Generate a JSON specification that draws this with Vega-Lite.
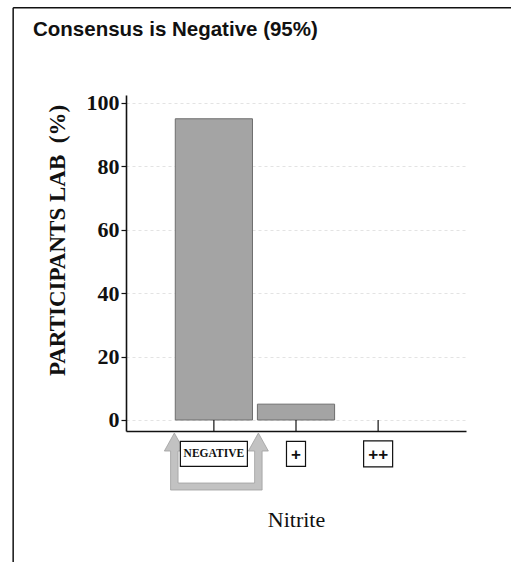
{
  "$schema": "https://vega.github.io/schema/vega-lite/v6.json",
  "width": 340,
  "height": 336,
  "autosize": {"type": "none"},
  "padding": {"left": 126, "top": 95, "right": 45, "bottom": 131},
  "background": "white",
  "title": {
    "text": "Consensus is Negative (95%)",
    "anchor": "start",
    "frame": "group",
    "dx": -93,
    "offset": -49.5,
    "baseline": "alphabetic",
    "font": "Liberation Sans",
    "fontSize": 20.5,
    "fontWeight": "bold",
    "color": "#111111"
  },
  "config": {"view": {"stroke": null}},
  "data": {
    "values": [
      {"category": "NEGATIVE", "percent": 95},
      {"category": "+", "percent": 5},
      {"category": "++", "percent": 0}
    ]
  },
  "layer": [
    {
      "data": {"values": [{"annotation": "frame"}]},
      "mark": {"type": "rule", "color": "#111111", "strokeWidth": 1.5},
      "encoding": {
        "x": {"datum": "NEGATIVE", "bandPosition": -2.1},
        "x2": {"datum": "++", "bandPosition": 2.6},
        "y": {"datum": 130}
      }
    },
    {
      "data": {"values": [{"annotation": "frame"}]},
      "mark": {"type": "rule", "color": "#111111", "strokeWidth": 1.5},
      "encoding": {
        "x": {"datum": "NEGATIVE", "bandPosition": -2.1},
        "y": {"datum": 130},
        "y2": {"datum": -50}
      }
    },
    {
      "mark": {"type": "bar", "fill": "#a4a4a4", "stroke": "#6e6e6e", "strokeWidth": 1},
      "encoding": {
        "x": {
          "field": "category",
          "type": "nominal",
          "sort": null,
          "scale": {"type": "band", "domain": ["NEGATIVE", "+", "++"], "paddingInner": 0.06, "paddingOuter": 0.6},
          "axis": {
            "title": "Nitrite",
            "labels": false,
            "ticks": false,
            "domainColor": "#111111",
            "domainWidth": 1.6,
            "titleFont": "Liberation Serif",
            "titleFontSize": 22,
            "titleFontWeight": "normal",
            "titleBaseline": "alphabetic",
            "titlePadding": 95,
            "titleColor": "#111111"
          }
        },
        "y": {
          "field": "percent",
          "type": "quantitative",
          "scale": {"domain": [-3.47, 102.5], "nice": false, "zero": false},
          "axis": {
            "title": "PARTICIPANTS LAB\u00a0 (%)",
            "values": [0, 20, 40, 60, 80, 100],
            "labelFont": "Liberation Serif",
            "labelFontSize": 22,
            "labelFontWeight": "bold",
            "labelColor": "#111111",
            "labelPadding": 2,
            "tickSize": 5,
            "tickColor": "#111111",
            "tickWidth": 1.2,
            "domainColor": "#111111",
            "domainWidth": 1.6,
            "grid": true,
            "gridColor": "#dcdcdc",
            "gridDash": [3, 3],
            "gridWidth": 0.8,
            "titleFont": "Liberation Serif",
            "titleFontSize": 23,
            "titleFontWeight": "bold",
            "titleColor": "#111111",
            "titlePadding": 17,
            "titleY": 145
          }
        },
        "y2": {"datum": 0},
        "strokeOpacity": {"condition": {"test": "datum.percent > 0", "value": 1}, "value": 0}
      }
    },
    {
      "mark": {"type": "rule", "color": "#111111", "strokeWidth": 1.2},
      "encoding": {
        "x": {"field": "category", "type": "nominal"},
        "y": {"datum": -3.47},
        "y2": {"datum": 0}
      }
    },
    {
      "data": {"values": [{"annotation": "consensus arrows"}]},
      "mark": {
        "type": "point",
        "shape": "M-0.808,-0.548L-0.615,-0.202L-0.736,-0.202L-0.736,0.413L0.736,0.413L0.736,-0.202L0.615,-0.202L0.808,-0.548L1,-0.202L0.88,-0.202L0.88,0.548L-0.88,0.548L-0.88,-0.202L-1,-0.202Z",
        "size": 10816,
        "filled": true,
        "fill": "#c2c2c2",
        "stroke": "#a0a0a0",
        "strokeWidth": 0.8,
        "opacity": 1
      },
      "encoding": {
        "x": {"datum": "NEGATIVE", "bandPosition": 0.532},
        "y": {"datum": -13.1}
      }
    },
    {
      "mark": {"type": "point", "filled": true, "fill": "white", "stroke": "#111111", "strokeWidth": 1.2, "size": 4489, "opacity": 1},
      "encoding": {
        "x": {"field": "category", "type": "nominal"},
        "y": {"datum": -10.7},
        "shape": {
          "field": "category",
          "type": "nominal",
          "scale": {
            "domain": ["NEGATIVE", "+", "++"],
            "range": ["M-1,-0.373H1V0.373H-1Z", "M-0.284,-0.373H0.284V0.373H-0.284Z", "M-0.433,-0.388H0.433V0.388H-0.433Z"]
          },
          "legend": null
        }
      }
    },
    {
      "transform": [{"filter": "datum.category === 'NEGATIVE'"}],
      "mark": {"type": "text", "font": "Liberation Serif", "fontWeight": "bold", "fontSize": 11.5, "color": "#111111", "baseline": "middle", "align": "center"},
      "encoding": {
        "x": {"field": "category", "type": "nominal"},
        "y": {"datum": -10.7},
        "text": {"field": "category"}
      }
    },
    {
      "transform": [{"filter": "datum.category !== 'NEGATIVE'"}],
      "mark": {"type": "text", "font": "Liberation Sans", "fontWeight": "bold", "fontSize": 17, "color": "#111111", "baseline": "middle", "align": "center", "dy": 1},
      "encoding": {
        "x": {"field": "category", "type": "nominal"},
        "y": {"datum": -10.7},
        "text": {"field": "category"}
      }
    }
  ]
}
